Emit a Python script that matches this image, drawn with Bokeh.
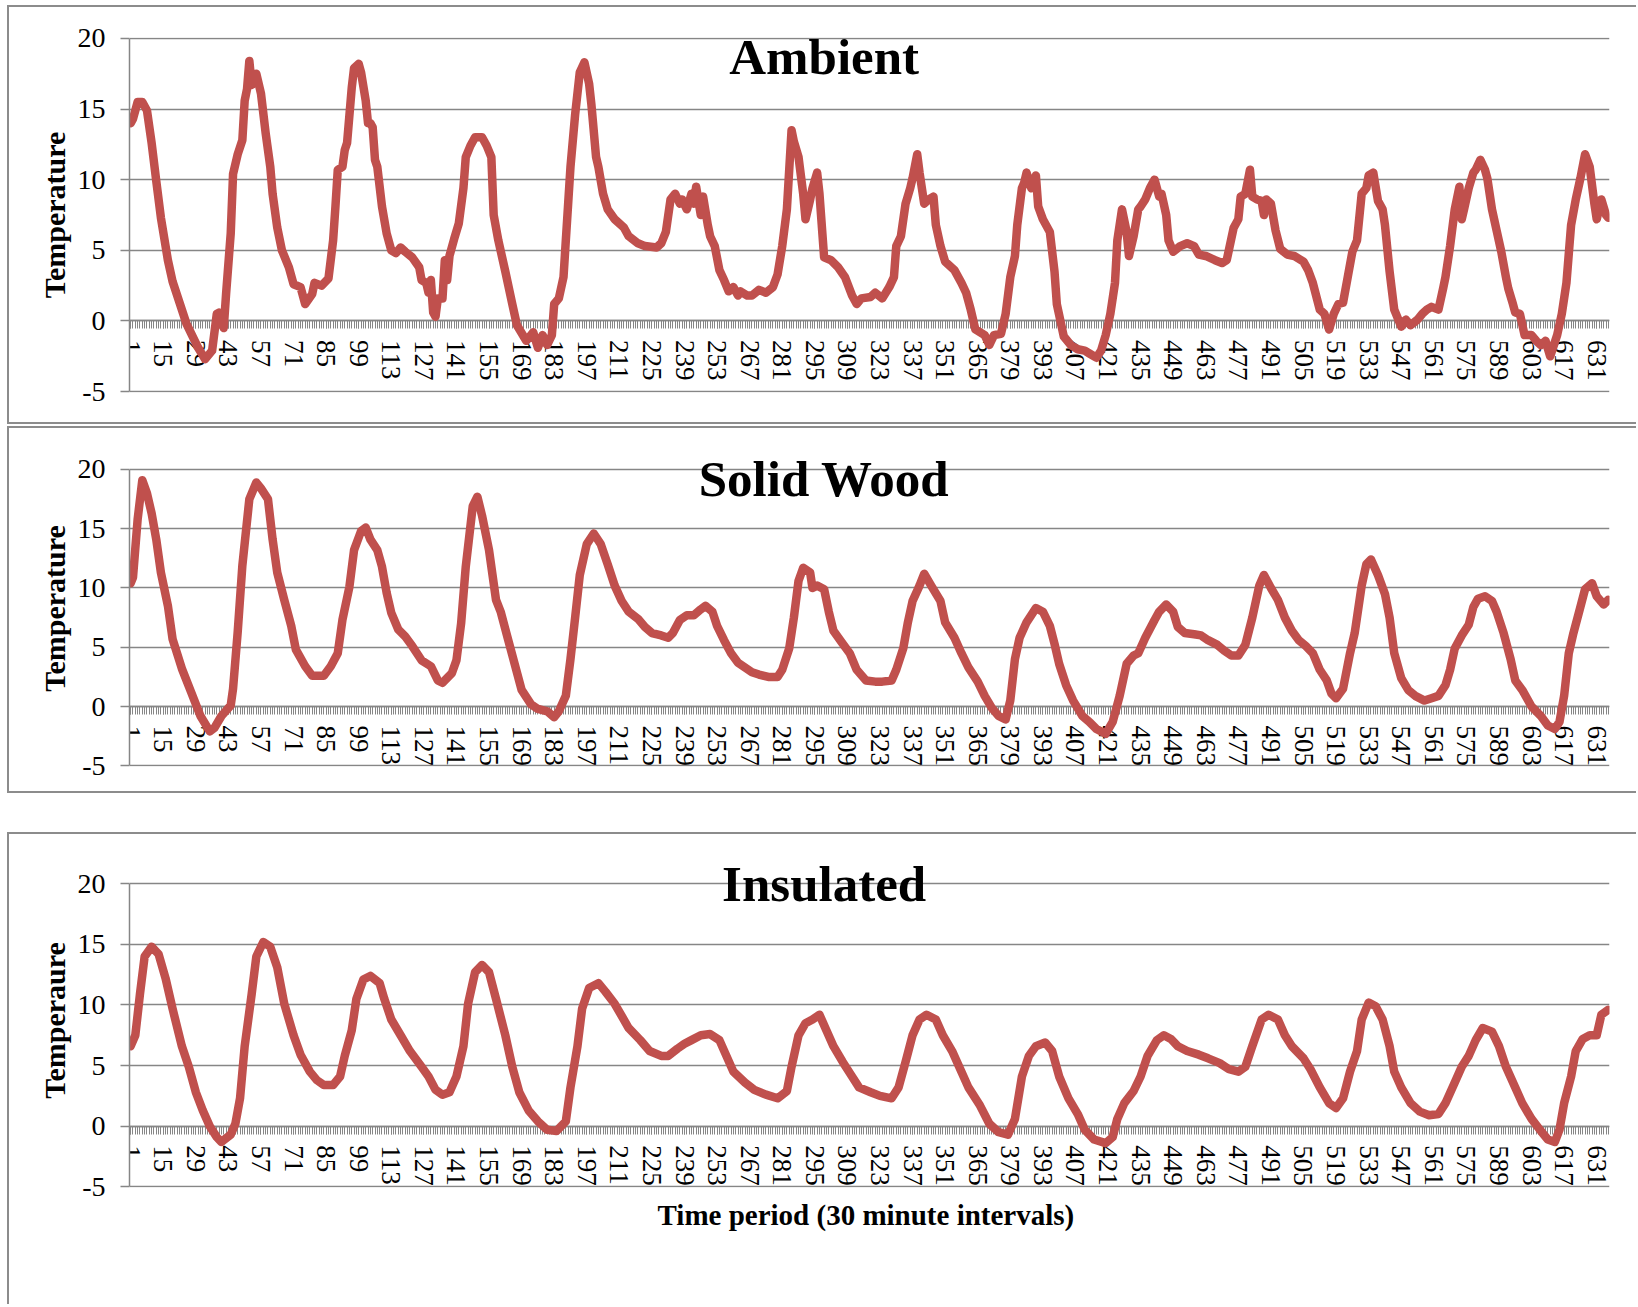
from bokeh.plotting import figure
from bokeh.models import Range1d, LinearAxis, FixedTicker, Label, Spacer
from bokeh.layouts import column, row
from bokeh.embed import file_html
from bokeh.resources import INLINE

# ---------------- data ----------------
N_PERIODS = 636
x_tick_labels = list(range(1, 632, 14))        # 1, 15, 29, ... 631
y_ticks = [-5, 0, 5, 10, 15, 20]
y_tick_labels = ["-5", "0", "5", "10", "15", "20"]

titles = ["Ambient", "Solid Wood", "Insulated"]
y_labels = ["Temperature", "Temperature", "Temperaure"]
x_label = "Time  period (30 minute intervals)"

ambient_t = [1, 2, 4, 6, 8, 10, 12, 14, 17, 19, 22, 25, 30, 33, 36, 38, 39, 41, 42, 44, 45, 47, 49, 50, 51, 52, 53, 55, 57, 59, 61, 62, 64, 66, 69, 71, 74, 76, 79, 80, 83, 86, 88, 89, 90, 92, 93, 94, 96, 97, 99, 100, 102, 103, 104, 105, 106, 107, 109, 111, 113, 115,
             117, 119, 122, 125, 126, 128, 129, 130, 131, 132, 133, 135, 136, 137, 138, 140, 142, 144, 145, 147, 149, 152, 154, 156, 157, 159, 162, 165, 167, 171, 173, 174, 176, 178, 180, 182, 183, 185, 187, 189, 190, 192, 194, 196, 198, 199, 201, 202, 204, 206, 209, 213, 215, 219, 222, 227, 229, 231, 233, 235, 237, 238, 240, 242, 243, 244, 246, 247, 249, 250, 252, 254, 256, 258, 260, 262, 263, 266, 268, 271, 274, 277, 279, 281, 283, 285, 286, 288, 290, 291, 293, 294, 296, 297, 299, 302, 305, 308, 311, 313, 315, 319, 321, 324, 327, 329, 330, 332, 334, 336, 337, 339, 340, 342, 344, 346, 347, 349, 351, 355, 358, 360, 362, 364, 368, 370, 372, 375, 377, 379, 381, 382, 384, 385, 386, 388, 390, 391, 393, 396, 398, 399, 402, 405, 408, 411, 413, 416, 418, 420, 422, 424, 425, 427, 429, 430, 432, 434, 435, 437, 439, 441, 443, 444, 446, 447, 449, 452, 455, 458, 460, 463, 467, 470, 472, 475, 477, 478, 480, 482, 483, 485, 487, 488, 489, 491, 493, 495, 498, 501, 505, 507, 509, 512, 514, 516, 518, 520, 522, 524, 526, 528, 530, 532, 533, 535, 537, 539, 540, 542, 544, 547, 549, 551, 554, 556, 558, 560, 563, 565, 566, 568, 570, 572, 573, 574, 576, 578, 579, 581, 583, 584, 586, 588, 590, 592, 593, 595, 596, 598, 600, 603, 605, 607, 609, 611, 614, 616, 618, 620, 622, 624, 626, 628, 630, 631, 633, 635, 636]
ambient_v = [14.0, 14.3, 15.5, 15.5, 14.9, 12.6, 9.9, 7.3, 4.3, 2.8, 1.3, -0.2, -1.9, -2.7, -2.1, 0.5, 0.6, -0.5, 1.9, 6.2, 10.4, 11.8, 12.8, 15.6, 16.4, 18.4, 16.7, 17.5, 16.1, 13.3, 10.9, 9.0, 6.6, 5.0, 3.8, 2.6, 2.4, 1.2, 1.9, 2.7, 2.5, 3.0, 5.7, 8.1, 10.7, 10.9, 12.1, 12.6, 16.5, 17.9, 18.2, 17.6, 15.6, 14.0, 14.0, 13.7, 11.4, 10.9, 8.1, 6.2, 5.0, 4.8,
             5.2, 4.9, 4.5, 3.8, 2.9, 2.7, 2.0, 2.9, 0.6, 0.3, 1.6, 1.6, 4.3, 2.9, 4.6, 5.8, 6.9, 9.4, 11.6, 12.4, 13.0, 13.0, 12.4, 11.6, 7.5, 5.7, 3.5, 1.2, -0.3, -1.4, -1.0, -0.8, -1.9, -1.0, -1.7, -1.0, 1.2, 1.6, 3.1, 8.3, 10.9, 14.6, 17.6, 18.3, 16.8, 15.3, 11.6, 10.9, 9.0, 7.9, 7.2, 6.6, 6.0, 5.5, 5.3, 5.2, 5.5, 6.3, 8.6, 9.0, 8.3, 8.6, 7.9, 9.0, 8.3, 9.5, 7.5, 8.8, 6.8, 6.0, 5.3, 3.6, 2.9, 2.1, 2.4, 1.8, 2.1, 1.8, 1.8, 2.2, 2.0, 2.4, 3.3, 5.3, 7.9, 13.5, 12.7, 11.6, 9.0, 7.2, 8.6, 9.4, 10.5, 9.0, 4.5, 4.3, 3.8, 3.1, 1.8, 1.2, 1.6, 1.7, 2.0, 1.6, 2.4, 3.1, 5.3, 6.0, 8.3, 9.4, 10.1, 11.8, 10.5, 8.3, 8.6, 8.8, 6.8, 5.3, 4.2, 3.6, 2.7, 2.0, 0.8, -0.6, -1.0, -1.7, -1.0, -0.9, 0.5, 3.1, 4.6, 6.8, 9.4, 9.8, 10.5, 9.4, 10.3, 8.1, 7.2, 6.3, 3.5, 1.2, -1.1, -1.7, -2.0, -2.1, -2.3, -2.6, -2.1, -1.0, 0.5, 2.7, 5.7, 7.9, 6.3, 4.6, 6.0, 7.9, 8.1, 8.6, 9.4, 10.0, 8.8, 9.0, 7.5, 5.7, 4.9, 5.3, 5.5, 5.3, 4.7, 4.6, 4.3, 4.1, 4.3, 6.6, 7.2, 8.8, 9.0, 10.7, 8.8, 8.6, 8.5, 7.5, 8.6, 8.3, 6.4, 5.1, 4.7, 4.6, 4.2, 3.6, 2.7, 0.8, 0.5, -0.6, 0.5, 1.2, 1.3, 3.1, 4.9, 5.7, 9.0, 9.4, 10.3, 10.5, 8.5, 7.9, 6.8, 3.5, 0.8, -0.4, 0.1, -0.3, 0.1, 0.5, 0.8, 1.0, 0.8, 2.3, 3.1, 5.3, 7.9, 9.5, 7.2, 7.9, 9.4, 10.5, 10.7, 11.4, 10.7, 10.1, 7.9, 6.4, 4.9, 3.1, 2.3, 1.2, 0.6, 0.5, -1.0, -1.0, -1.4, -1.7, -1.4, -2.5, -1.0, 0.5, 2.7, 6.8, 8.6, 10.1, 11.8, 10.9, 8.3, 7.2, 8.6, 7.5, 7.3]

wood_t = [1, 2, 4, 6, 8, 10, 12, 14, 17, 19, 23, 27, 31, 35, 37, 40, 44, 45, 47, 49, 52, 55, 57, 60, 62, 64, 67, 70, 72, 76, 79, 84, 87, 90, 92, 95, 97, 100, 102, 104, 107, 109, 111, 113, 116, 119, 122, 126, 130, 133, 135, 139, 141, 143, 145, 148, 150, 152, 155, 158,
          160, 163, 166, 169, 173, 176, 180, 183, 185, 188, 190, 192, 194, 197, 200, 203, 206, 209, 212, 215, 219, 222, 225, 229, 232, 234, 237, 240, 243, 246, 248, 251, 253, 256, 259, 262, 265, 268, 271, 275, 279, 281, 284, 286, 288, 290, 293, 294, 296, 299, 301, 303, 307, 310, 313, 317, 321, 324, 328, 330, 333, 335, 337, 340, 342, 345, 349, 351, 355, 358, 361, 365, 368, 371, 374, 377, 379, 381, 383, 386, 390, 393, 396, 398, 400, 403, 406, 410, 413, 416, 420, 423, 426, 429, 432, 434, 437, 441, 443, 446, 449, 451, 454, 458, 461, 464, 468, 471, 474, 477, 480, 483, 486, 488, 491, 494, 497, 500, 503, 506, 509, 512, 515, 517, 519, 522, 525, 527, 530, 532, 534, 537, 540, 542, 544, 547, 550, 553, 557, 560, 563, 566, 568, 570, 573, 576, 578, 580, 583, 586, 588, 591, 594, 596, 599, 603, 607, 610, 613, 615, 617, 619, 621, 624, 626, 629, 631, 634, 636]
wood_v = [10.4, 10.9, 15.8, 19.1, 18.0, 16.3, 14.1, 11.3, 8.5, 5.7, 3.2, 1.2, -0.8, -2.1, -1.8, -0.8, 0.1, 1.5, 6.3, 11.9, 17.5, 18.9, 18.4, 17.5, 14.1, 11.3, 9.0, 6.8, 4.8, 3.4, 2.6, 2.6, 3.4, 4.5, 7.3, 10.1, 13.2, 14.8, 15.1, 14.1, 13.2, 11.8, 9.6, 7.9, 6.5, 5.9, 5.1, 3.9, 3.4, 2.2, 2.0, 2.8, 3.9, 7.0, 11.8, 16.9, 17.7, 16.1, 13.2, 9.0,
          8.0, 5.8, 3.6, 1.4, 0.2, -0.2, -0.4, -0.9, -0.4, 0.9, 4.0, 7.5, 11.1, 13.7, 14.6, 13.7, 12.0, 10.2, 8.9, 8.0, 7.4, 6.7, 6.2, 6.0, 5.8, 6.2, 7.3, 7.7, 7.7, 8.2, 8.5, 8.0, 6.8, 5.6, 4.5, 3.7, 3.3, 2.9, 2.7, 2.5, 2.5, 3.1, 4.9, 7.5, 10.6, 11.7, 11.3, 10.0, 10.2, 9.9, 8.0, 6.4, 5.3, 4.5, 3.1, 2.2, 2.1, 2.1, 2.2, 3.1, 4.9, 7.1, 8.9, 10.2, 11.2, 10.2, 8.9, 7.1, 5.8, 4.5, 3.3, 2.1, 0.9, -0.1, -0.8, -1.1, 0.5, 4.0, 5.8, 7.1, 8.3, 8.0, 6.8, 5.3, 3.6, 1.8, 0.5, -0.8, -1.3, -1.9, -2.3, -1.3, 0.9, 3.6, 4.3, 4.5, 5.8, 7.3, 8.0, 8.6, 8.0, 6.7, 6.2, 6.1, 6.0, 5.6, 5.2, 4.7, 4.3, 4.3, 5.2, 7.5, 10.2, 11.1, 10.0, 9.0, 7.5, 6.4, 5.6, 5.1, 4.5, 3.1, 2.2, 1.1, 0.7, 1.5, 4.5, 6.2, 10.2, 12.0, 12.4, 11.1, 9.5, 7.5, 4.5, 2.4, 1.4, 0.9, 0.5, 0.7, 0.9, 1.8, 3.1, 4.9, 6.0, 6.9, 8.4, 9.1, 9.3, 8.9, 8.0, 6.2, 4.0, 2.2, 1.4, 0.0, -0.8, -1.6, -1.9, -1.3, 0.9, 4.5, 6.2, 8.4, 9.9, 10.4, 9.3, 8.6, 9.0]

insul_t = [1, 3, 5, 7, 10, 13, 16, 19, 23, 26, 29, 32, 35, 38, 40, 44, 46, 48, 50, 53, 55, 58, 61, 64, 67, 71, 74, 78, 81, 84, 88, 91, 93, 96, 98, 101, 104, 108, 110, 113, 117, 121, 126, 129, 132, 135, 138, 141, 144, 146, 149, 152, 155, 158, 162, 165, 168, 172, 176, 180, 184, 188, 190, 193, 195, 198, 202, 205, 209, 212, 215, 220, 224, 229, 232, 236, 239, 242, 246, 250, 254, 257, 260, 265, 269, 274, 279, 283, 285, 288, 291, 294, 297, 300, 303, 307, 311, 314, 319, 323, 328, 331, 334, 337, 340, 343, 347, 350, 354, 358, 361, 366, 370, 374, 378, 381, 384, 387, 390, 394, 397, 400, 404, 408, 411, 415, 420, 423, 425, 428, 432, 435, 438, 442, 445, 448, 451, 455, 460, 464, 469, 473, 477, 480, 483, 487, 490, 494, 497, 500, 505, 508, 512, 516, 519, 522, 525, 528, 530, 533, 536, 539, 542, 544, 547, 551, 555, 559, 563, 566, 570, 573, 576, 579, 582, 586, 589, 592, 596, 599, 603, 607, 610, 613, 615, 617, 620, 622, 625, 628, 631, 633, 636]
insul_v = [6.6, 7.5, 10.9, 14.0, 14.8, 14.2, 12.2, 9.7, 6.6, 4.9, 2.8, 1.3, 0.0, -0.9, -1.3, -0.7, 0.2, 2.3, 6.6, 10.9, 14.0, 15.2, 14.8, 13.1, 10.1, 7.5, 5.9, 4.5, 3.8, 3.4, 3.4, 4.1, 5.8, 7.9, 10.5, 12.1, 12.4, 11.8, 10.5, 8.8, 7.5, 6.2, 4.9, 4.1, 3.0, 2.6, 2.8, 4.1, 6.6, 10.1, 12.7, 13.3, 12.7, 10.5, 7.5, 4.9, 2.8, 1.3, 0.4, -0.3, -0.4, 0.4, 3.2, 6.6, 9.7, 11.4, 11.8, 11.1, 10.1, 9.1, 8.1, 7.1, 6.2, 5.8, 5.8, 6.4, 6.8, 7.1, 7.5, 7.6, 7.1, 5.8, 4.5, 3.6, 3.0, 2.6, 2.3, 2.9, 4.9, 7.5, 8.5, 8.8, 9.2, 7.9, 6.6, 5.3, 4.1, 3.2, 2.8, 2.5, 2.3, 3.2, 5.3, 7.5, 8.8, 9.2, 8.8, 7.5, 6.2, 4.5, 3.2, 1.7, 0.2, -0.5, -0.7, 0.6, 4.1, 5.8, 6.6, 6.9, 6.2, 4.1, 2.3, 1.0, -0.3, -1.1, -1.4, -0.9, 0.6, 1.9, 2.9, 4.1, 5.8, 7.1, 7.5, 7.2, 6.6, 6.2, 5.9, 5.6, 5.2, 4.7, 4.5, 4.9, 6.6, 8.8, 9.2, 8.8, 7.5, 6.6, 5.6, 4.7, 3.2, 1.9, 1.5, 2.3, 4.5, 6.2, 8.8, 10.2, 9.9, 8.8, 6.6, 4.5, 3.2, 1.9, 1.2, 0.9, 1.0, 1.9, 3.6, 4.9, 5.8, 7.1, 8.1, 7.8, 6.6, 4.9, 3.2, 1.9, 0.6, -0.4, -1.1, -1.3, -0.3, 1.9, 4.1, 6.2, 7.2, 7.5, 7.5, 9.2, 9.6]

series_t = [ambient_t, wood_t, insul_t]
series_v = [ambient_v, wood_v, insul_v]

# ---------------- styling ----------------
RED = "#C0504D"
GRAY = "#868686"
BORDER = "#8C8C8C"
FONT = "Liberation Serif"
PANEL_W = 1629
# height, min_border_top, min_border_bottom, y-range top, title y, css border
panel_cfg = [
    (419, 30, 34, 20.06, 18.7, {"border-top": f"2px solid {BORDER}", "border-left": f"2px solid {BORDER}",
                                "border-bottom": f"2px solid {BORDER}", "box-sizing": "border-box"}),
    (367, 22, 29, 21.6, 19.2, {"border-top": f"2px solid {BORDER}", "border-left": f"2px solid {BORDER}",
                               "border-bottom": f"2px solid {BORDER}", "box-sizing": "border-box"}),
    (472, 19, 119, 22.5, 20.0, {"border-top": f"2px solid {BORDER}", "border-left": f"2px solid {BORDER}",
                                "box-sizing": "border-box"}),
]


def make_panel(i):
    height, btop, bbot, ytop, title_y, css = panel_cfg[i]
    p = figure(width=PANEL_W, height=height,
               x_range=Range1d(0.5, N_PERIODS + 0.5), y_range=Range1d(-5.06, ytop),
               x_axis_type=None, toolbar_location=None, output_backend="svg",
               min_border_left=120, min_border_right=29,
               min_border_top=btop, min_border_bottom=bbot,
               outline_line_color=None, background_fill_color="white",
               border_fill_color="white", styles=css)

    # y axis
    ya = p.yaxis[0]
    ya.ticker = FixedTicker(ticks=y_ticks)
    ya.bounds = (y_ticks[0], y_ticks[-1])
    ya.major_label_overrides = {t: s for t, s in zip(y_ticks, y_tick_labels)}
    ya.axis_line_color = GRAY
    ya.axis_line_width = 1.5
    ya.major_tick_line_color = GRAY
    ya.major_tick_line_width = 1.5
    ya.major_tick_out = 9
    ya.major_tick_in = 0
    ya.minor_tick_line_color = None
    ya.major_label_text_font = FONT
    ya.major_label_text_font_size = "28px"
    ya.major_label_text_color = "black"
    ya.major_label_standoff = 15
    ya.axis_label = y_labels[i]
    ya.axis_label_text_font = FONT
    ya.axis_label_text_font_style = "bold"
    ya.axis_label_text_font_size = "30px"
    ya.axis_label_text_color = "black"
    ya.axis_label_standoff = 4

    p.ygrid.ticker = FixedTicker(ticks=y_ticks)
    p.ygrid.grid_line_color = GRAY
    p.ygrid.grid_line_width = 1.5

    # category axis crossing at zero
    xa = LinearAxis(fixed_location=0,
                    ticker=FixedTicker(ticks=x_tick_labels,
                                       minor_ticks=list(range(1, N_PERIODS + 1))))
    xa.axis_line_color = GRAY
    xa.axis_line_width = 1.5
    xa.major_tick_line_color = GRAY
    xa.major_tick_out = 8
    xa.major_tick_in = 0
    xa.minor_tick_line_color = GRAY
    xa.minor_tick_line_width = 1
    xa.minor_tick_out = 8
    xa.minor_tick_in = 0
    xa.major_label_orientation = "vertical"
    xa.major_label_standoff = 11
    xa.major_label_text_font = FONT
    xa.major_label_text_font_size = "27px"
    xa.major_label_text_color = "black"
    xa.level = "underlay"
    p.add_layout(xa, "below")

    if i == 2:
        la = LinearAxis(ticker=FixedTicker(ticks=[]), axis_label=x_label)
        la.axis_line_color = None
        la.major_tick_line_color = None
        la.minor_tick_line_color = None
        la.major_tick_out = 0
        la.minor_tick_out = 0
        la.major_label_text_font_size = "0px"
        la.axis_label_text_font = FONT
        la.axis_label_text_font_style = "bold"
        la.axis_label_text_font_size = "29px"
        la.axis_label_text_color = "black"
        la.axis_label_standoff = 11
        p.add_layout(la, "below")

    p.line(series_t[i], series_v[i], line_color=RED, line_width=8.5,
           line_join="round", line_cap="round")

    p.add_layout(Label(x=299, y=title_y, text=titles[i], text_font=FONT,
                       text_font_style="bold", text_font_size="51px",
                       text_color="black", text_align="center",
                       text_baseline="middle"))
    return p


p1 = make_panel(0)
p2 = make_panel(1)
p3 = make_panel(2)

layout = row(Spacer(width=7),
             column(Spacer(height=5), p1, Spacer(height=2), p2, Spacer(height=39), p3))

open("out.html", "w").write(file_html(layout, INLINE))
